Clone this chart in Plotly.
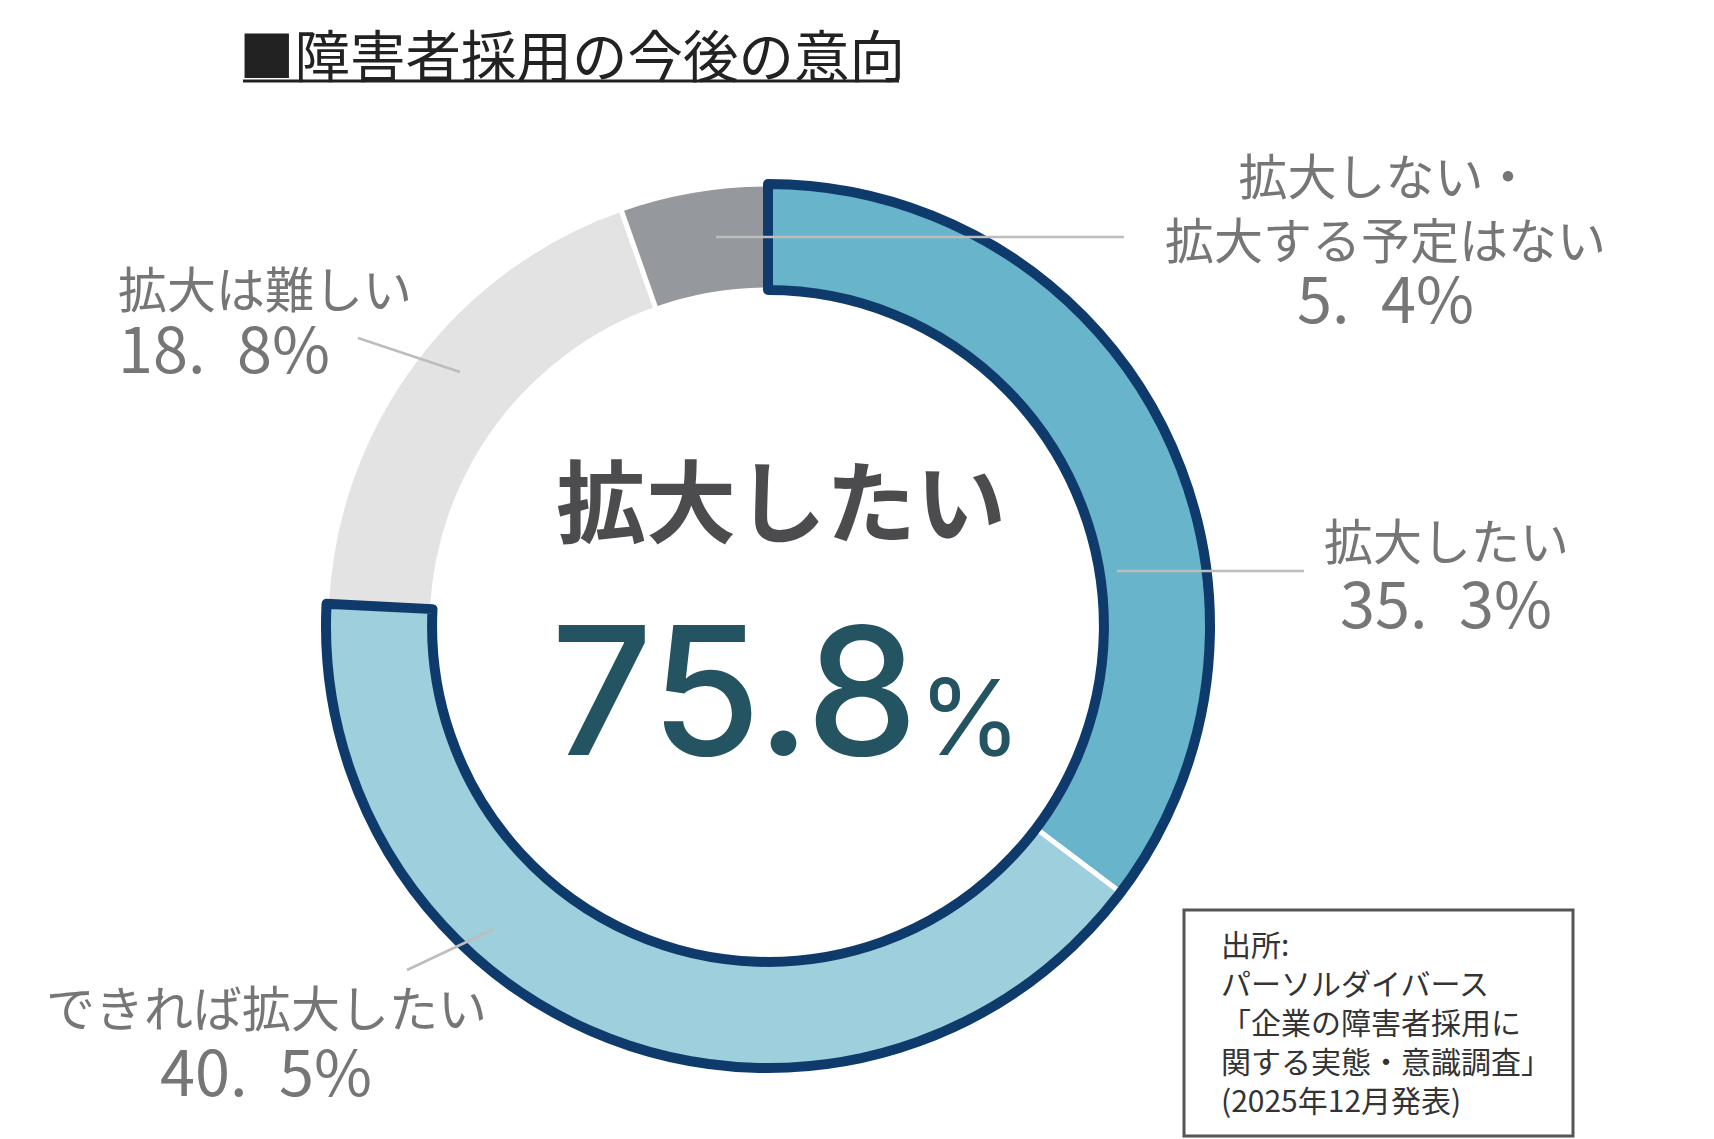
import plotly.graph_objects as go

# ---- data ----
categories = ["拡大したい", "できれば拡大したい", "拡大は難しい", "拡大しない・<br>拡大する予定はない"]
values = [35.3, 40.5, 18.8, 5.4]
slice_colors = ["#68B4CA", "#9DCFDC", "#E3E3E3", "#95989D"]
highlight_label = "拡大したい"
title_text = "■障害者採用の今後の意向"
source_lines = ["出所:", "パーソルダイバース", "「企業の障害者採用に", "関する実態・意識調査」", "(2025年12月発表)"]

W, H = 1714, 1139
NAVY = "#0F3B6C"
LABEL_GRAY = "#767676"
LEADER = "#BDBDBD"

def X(px):
    return px / W

def Y(py):
    return 1 - py / H

# donut geometry
cx, cy, R = 768, 626, 442
hole = 0.76
domain = dict(x=[X(cx - R), X(cx + R)], y=[Y(cy + R), Y(cy - R)])

fig = go.Figure()
fig.add_trace(go.Pie(
    labels=[c.replace("<br>", "") for c in categories],
    values=values,
    sort=False,
    direction="clockwise",
    rotation=0,
    hole=hole,
    domain=domain,
    marker=dict(colors=slice_colors, line=dict(color="white", width=5)),
    textinfo="none",
    hoverinfo="label+percent",
    showlegend=False,
))

hi_total = values[0] + values[1]
rest_total = values[2] + values[3]
fig.add_trace(go.Pie(
    labels=["highlight", "rest"],
    values=[hi_total, rest_total],
    sort=False,
    direction="clockwise",
    rotation=0,
    hole=hole,
    domain=domain,
    marker=dict(colors=["rgba(0,0,0,0)", "rgba(0,0,0,0)"],
                line=dict(color=[NAVY, "rgba(0,0,0,0)"], width=[10, 0])),
    textinfo="none",
    hoverinfo="skip",
    showlegend=False,
))

def fmt(v):
    return f"{v:.1f}".replace(".", ".\u2002") + "%"

JP = "Noto Sans CJK JP"
annotations = []

def ann(text, x, y, size, color=LABEL_GRAY, xanchor="center", family=JP, weight=None):
    f = dict(family=family, size=size, color=color)
    if weight is not None:
        f["weight"] = weight
    annotations.append(dict(text=text, x=X(x), y=Y(y), xref="paper", yref="paper",
                            xanchor=xanchor, yanchor="middle", showarrow=False, font=f))

NAME_SIZE = 49
VAL_SIZE = 63
# slice labels
ann(categories[3], 1385, 205, NAME_SIZE)
ann(fmt(values[3]), 1385, 295, VAL_SIZE)
ann(categories[2], 116, 287, NAME_SIZE, xanchor="left")
ann(fmt(values[2]), 116, 345, VAL_SIZE, xanchor="left")
ann(categories[0], 1446, 538, NAME_SIZE)
ann(fmt(values[0]), 1446, 600, VAL_SIZE)
ann(categories[1], 266, 1005, NAME_SIZE)
ann(fmt(values[1]), 266, 1068, VAL_SIZE)

# center
ann(highlight_label, 781, 497, 90, color="#4C4C4E", weight=700)
annotations.append(dict(
    text=f"{hi_total:.1f}<span style='font-size:105px;font-weight:400'>%</span>",
    x=X(786), y=Y(690), xref="paper", yref="paper", xanchor="center", yanchor="middle",
    showarrow=False, font=dict(family="Inter", size=178, color="#245361", weight=500)))

# title
annotations.append(dict(text=title_text, x=X(237), y=Y(53), xref="paper", yref="paper",
                        xanchor="left", yanchor="middle", showarrow=False,
                        font=dict(family=JP, size=55.5, color="#222222")))

# source box text
annotations.append(dict(text="<br>".join(source_lines), x=X(1219), y=Y(1021), xref="paper", yref="paper",
                        xanchor="left", yanchor="middle", align="left", showarrow=False,
                        font=dict(family=JP, size=30, color="#333333")))

shapes = []
# leader lines
for (x0, y0, x1, y1) in [(716, 237, 1124, 237), (1117, 571, 1304, 571),
                         (358, 338, 460, 372), (407, 970, 494, 929)]:
    shapes.append(dict(type="line", xref="paper", yref="paper", x0=X(x0), y0=Y(y0), x1=X(x1), y1=Y(y1),
                       line=dict(color=LEADER, width=2.5), layer="above"))
# title underline
shapes.append(dict(type="line", xref="paper", yref="paper", x0=X(243), y0=Y(81), x1=X(899), y1=Y(81),
                   line=dict(color="#222222", width=3)))
# source box
shapes.append(dict(type="rect", xref="paper", yref="paper", x0=X(1184), y0=Y(1136), x1=X(1573), y1=Y(910),
                   line=dict(color="#555555", width=3), fillcolor="rgba(0,0,0,0)"))

fig.update_layout(
    width=W, height=H,
    margin=dict(l=0, r=0, t=0, b=0),
    paper_bgcolor="white", plot_bgcolor="white",
    annotations=annotations, shapes=shapes,
    showlegend=False,
)

fig.write_html("out.html", config={"displayModeBar": False},
               post_script="document.body.style.margin='0px';")
